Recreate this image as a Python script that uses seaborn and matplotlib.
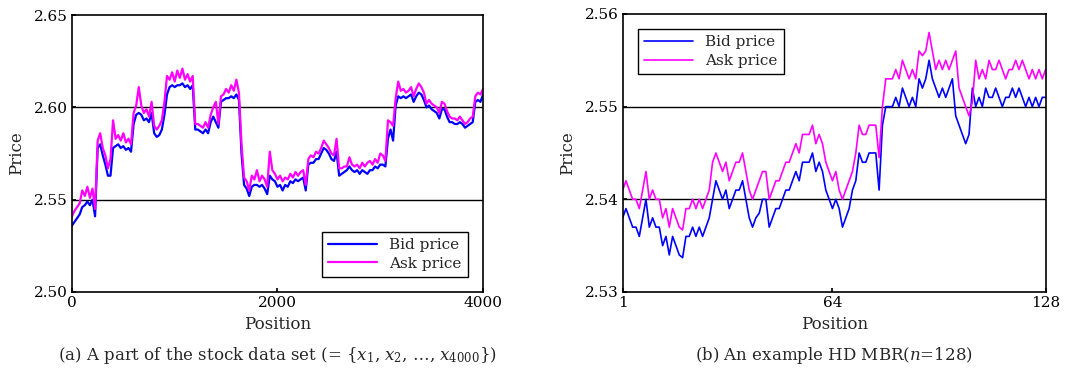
import numpy as np
import pandas as pd
import matplotlib
matplotlib.use("Agg")
import matplotlib.pyplot as plt
import seaborn as sns

# (a) stock data set, read every 25 positions from 0 to 4000
ask_a = [2.541, 2.544, 2.546, 2.548, 2.555, 2.552, 2.557, 2.551, 2.556, 2.545,
         2.582, 2.586, 2.578, 2.574, 2.567, 2.572, 2.593, 2.583, 2.585, 2.582,
         2.586, 2.581, 2.583, 2.580, 2.597, 2.601, 2.611, 2.601, 2.597, 2.599,
         2.595, 2.603, 2.590, 2.588, 2.590, 2.593, 2.603, 2.617, 2.615, 2.619,
         2.614, 2.620, 2.616, 2.621, 2.615, 2.618, 2.614, 2.617, 2.591, 2.591,
         2.590, 2.589, 2.592, 2.589, 2.596, 2.600, 2.603, 2.591, 2.606, 2.607,
         2.610, 2.608, 2.612, 2.609, 2.615, 2.608, 2.580, 2.562, 2.560, 2.555,
         2.563, 2.561, 2.566, 2.560, 2.563, 2.561, 2.557, 2.576, 2.566, 2.564,
         2.561, 2.563, 2.560, 2.562, 2.561, 2.564, 2.562, 2.565, 2.563, 2.565,
         2.566, 2.558, 2.572, 2.574, 2.573, 2.576, 2.575, 2.578, 2.582, 2.580,
         2.578, 2.575, 2.574, 2.583, 2.567, 2.567, 2.568, 2.568, 2.573, 2.569,
         2.568, 2.569, 2.567, 2.570, 2.568, 2.570, 2.571, 2.569, 2.572, 2.570,
         2.575, 2.574, 2.571, 2.593, 2.592, 2.590, 2.605, 2.614, 2.609, 2.610,
         2.608, 2.609, 2.611, 2.606, 2.610, 2.613, 2.611, 2.608, 2.602, 2.604,
         2.602, 2.601, 2.600, 2.597, 2.603, 2.602, 2.598, 2.595, 2.594, 2.594,
         2.593, 2.595, 2.593, 2.591, 2.592, 2.594, 2.595, 2.606, 2.608, 2.607,
         2.610]
bid_a = [2.536, 2.538, 2.540, 2.542, 2.546, 2.547, 2.549, 2.547, 2.550, 2.541,
         2.578, 2.580, 2.574, 2.569, 2.563, 2.563, 2.578, 2.579, 2.580, 2.578,
         2.579, 2.577, 2.578, 2.576, 2.591, 2.596, 2.597, 2.596, 2.593, 2.594,
         2.592, 2.597, 2.586, 2.584, 2.585, 2.588, 2.596, 2.607, 2.611, 2.612,
         2.611, 2.612, 2.612, 2.613, 2.611, 2.612, 2.610, 2.612, 2.588, 2.588,
         2.587, 2.586, 2.588, 2.586, 2.592, 2.595, 2.592, 2.589, 2.603, 2.604,
         2.605, 2.605, 2.606, 2.605, 2.607, 2.604, 2.575, 2.558, 2.556, 2.552,
         2.557, 2.558, 2.558, 2.557, 2.558, 2.556, 2.553, 2.563, 2.561, 2.560,
         2.557, 2.558, 2.555, 2.558, 2.557, 2.560, 2.559, 2.561, 2.560, 2.561,
         2.562, 2.555, 2.569, 2.570, 2.570, 2.572, 2.572, 2.575, 2.578, 2.577,
         2.575, 2.572, 2.571, 2.576, 2.563, 2.564, 2.565, 2.566, 2.568, 2.566,
         2.565, 2.566, 2.564, 2.566, 2.565, 2.564, 2.566, 2.566, 2.568, 2.567,
         2.569, 2.569, 2.568, 2.583, 2.588, 2.582, 2.601, 2.606, 2.605, 2.606,
         2.605, 2.606, 2.607, 2.603, 2.606, 2.608, 2.607, 2.604, 2.600, 2.601,
         2.599, 2.598, 2.597, 2.594, 2.599, 2.599, 2.595, 2.592, 2.592, 2.591,
         2.591, 2.592, 2.591, 2.589, 2.590, 2.591, 2.592, 2.603, 2.604, 2.603,
         2.607]

# (b) HD MBR, n = 128
bid_b = [2.538, 2.539, 2.538, 2.537, 2.537, 2.536, 2.538, 2.540, 2.537, 2.538,
         2.537, 2.537, 2.535, 2.536, 2.534, 2.536, 2.535, 2.534, 2.5337, 2.536,
         2.536, 2.537, 2.536, 2.537, 2.536, 2.537, 2.538, 2.540, 2.542, 2.541,
         2.540, 2.541, 2.539, 2.540, 2.541, 2.541, 2.542, 2.540, 2.538, 2.537,
         2.538, 2.5385, 2.540, 2.540, 2.537, 2.538, 2.539, 2.539, 2.540, 2.541,
         2.541, 2.542, 2.543, 2.542, 2.544, 2.544, 2.544, 2.545, 2.543, 2.544,
         2.543, 2.541, 2.540, 2.539, 2.540, 2.539, 2.537, 2.538, 2.539, 2.541,
         2.542, 2.545, 2.544, 2.544, 2.545, 2.545, 2.545, 2.541, 2.548, 2.550,
         2.550, 2.550, 2.551, 2.550, 2.552, 2.551, 2.550, 2.551, 2.550, 2.553,
         2.552, 2.553, 2.555, 2.553, 2.552, 2.551, 2.552, 2.551, 2.552, 2.553,
         2.549, 2.548, 2.547, 2.546, 2.547, 2.552, 2.550, 2.551, 2.550, 2.552,
         2.551, 2.551, 2.552, 2.551, 2.550, 2.551, 2.551, 2.552, 2.551, 2.552,
         2.551, 2.550, 2.551, 2.550, 2.551, 2.550, 2.551, 2.551]
ask_b = [2.541, 2.542, 2.541, 2.540, 2.540, 2.539, 2.541, 2.543, 2.540, 2.541,
         2.540, 2.540, 2.538, 2.539, 2.537, 2.539, 2.538, 2.537, 2.5367, 2.539,
         2.539, 2.540, 2.539, 2.540, 2.539, 2.540, 2.541, 2.544, 2.545, 2.544,
         2.543, 2.544, 2.542, 2.543, 2.544, 2.544, 2.545, 2.543, 2.541, 2.540,
         2.541, 2.542, 2.543, 2.543, 2.540, 2.541, 2.542, 2.542, 2.543, 2.544,
         2.544, 2.545, 2.546, 2.545, 2.547, 2.547, 2.547, 2.548, 2.546, 2.547,
         2.546, 2.544, 2.543, 2.542, 2.543, 2.541, 2.540, 2.541, 2.542, 2.543,
         2.545, 2.548, 2.547, 2.547, 2.548, 2.548, 2.548, 2.5445, 2.550, 2.553,
         2.553, 2.553, 2.554, 2.553, 2.555, 2.554, 2.553, 2.554, 2.553, 2.556,
         2.5555, 2.556, 2.558, 2.556, 2.554, 2.555, 2.554, 2.555, 2.554, 2.555,
         2.556, 2.552, 2.551, 2.550, 2.549, 2.5505, 2.555, 2.553, 2.554, 2.553,
         2.555, 2.554, 2.554, 2.555, 2.554, 2.553, 2.554, 2.554, 2.555, 2.554,
         2.555, 2.554, 2.553, 2.554, 2.553, 2.554, 2.553, 2.554]

captions = [r"(a) A part of the stock data set (= {$x_1$, $x_2$, …, $x_{4000}$})",
            r"(b) An example HD MBR($n$=128)"]

df_a = pd.DataFrame({"Position": np.linspace(0, 4000, len(ask_a)),
                     "Bid price": bid_a, "Ask price": ask_a})
df_a = df_a.melt(id_vars="Position", var_name="series", value_name="Price")
df_b = pd.DataFrame({"Position": np.arange(1, len(bid_b) + 1),
                     "Bid price": bid_b, "Ask price": ask_b})
df_b = df_b.melt(id_vars="Position", var_name="series", value_name="Price")

sns.set_theme(style="white")
plt.rcParams["font.family"] = ["DejaVu Serif"]
plt.rcParams["mathtext.fontset"] = "dejavuserif"
colors = {"Bid price": "#0000ff", "Ask price": "#ff00ff"}

fig = plt.figure(figsize=(10.66, 3.83), dpi=100)
ax1 = fig.add_axes([0.0675, 0.2376, 0.3856, 0.723])
ax2 = fig.add_axes([0.5841, 0.2376, 0.3968, 0.726])

sns.lineplot(data=df_a, x="Position", y="Price", hue="series", palette=colors,
             linewidth=1.6, ax=ax1)
sns.lineplot(data=df_b, x="Position", y="Price", hue="series", palette=colors,
             linewidth=1.2, ax=ax2)

ax1.set_xlim(0, 4000)
ax1.set_ylim(2.50, 2.65)
ax1.set_xticks([0, 2000, 4000])
ax1.set_yticks([2.50, 2.55, 2.60, 2.65])
ax1.set_yticklabels(["2.50", "2.55", "2.60", "2.65"])
for v in [2.55, 2.60]:
    ax1.axhline(v, color="black", lw=1, zorder=0)

ax2.set_xlim(1, 128)
ax2.set_ylim(2.53, 2.56)
ax2.set_xticks([1, 64, 128])
ax2.set_yticks([2.53, 2.54, 2.55, 2.56])
for v in [2.54, 2.55]:
    ax2.axhline(v, color="black", lw=1, zorder=0)

for ax, cap, loc in [(ax1, captions[0], "lower right"), (ax2, captions[1], "upper left")]:
    ax.set_xlabel("Position", fontsize=12, labelpad=4)
    ax.set_ylabel("Price", fontsize=12, labelpad=6)
    ax.tick_params(axis="both", direction="in", length=3, labelsize=11, pad=3,
                   colors="black", left=True, bottom=True)
    for s in ax.spines.values():
        s.set_color("black")
        s.set_linewidth(1.2)
    h, l = ax.get_legend_handles_labels()
    leg = ax.legend(h, l, loc=loc, fontsize=11, handlelength=3.2, frameon=True,
                    fancybox=False, edgecolor="black", framealpha=1,
                    borderaxespad=1.0, labelspacing=0.3)
    leg.get_frame().set_linewidth(1.0)
    ax.text(0.5, -0.228, cap, transform=ax.transAxes, ha="center", va="center",
            fontsize=12)

fig.savefig("out.png", dpi=100)
